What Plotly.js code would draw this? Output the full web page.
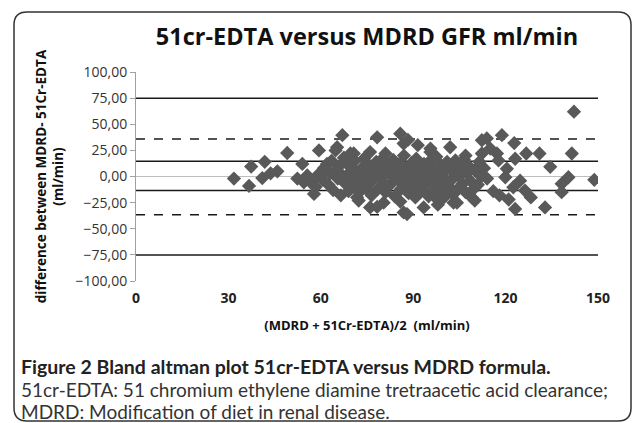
<!DOCTYPE html>
<html>
<head>
<meta charset="utf-8">
<script src="https://cdn.plot.ly/plotly-3.0.1.min.js"></script>
<style>html,body{margin:0;padding:0;background:#fff;}#chart{width:633px;height:423px;}</style>
</head>
<body>
<div id="chart"></div>
<script>
// Mean of the two methods (ml/min)
const meanGFR = [
  31.8,36.7,37.4,41,41.8,43.7,45.9,49.1,52.4,54,54.5,55.6,56.7,57.8,58.3,58.9,59.4,62,61.5,
  65.3,67,69.6,64.8,70.7,76,78.3,81,85.8,86.9,88.3,91.5,95.6,95.6,71.8,72.3,76,78.3,80.4,85.8,86.9,88,90.7,93.4,96.6,103.1,104.2,110,103.7,105.3,102,98,100,107,109.6,98.8,
  60.5,61,62.5,63,63.5,64,65,65.5,66,66.5,67,67.5,68,68.5,69,69.5,70,70,
  71,71.5,72,72.5,73,73.5,74,74.5,75,75.5,76,76.5,77,77.5,78,78.5,79,79.5,80,80,
  81,81.5,82,82.5,83,83.5,84,84.5,85,85.5,86,86.5,87,87.5,88,88.5,89,89.5,90,90,
  91,91.5,92,92.5,93,93.5,94,94.5,95,95.5,96,96.5,97,97.5,98,98.5,99,99.5,100,100,
  101,101.5,102,102.5,103,103.5,104,104.5,105,105.5,106,106.5,107,107.5,108,108.5,109,110,111,111.5,112,
  112.3,113.9,118.8,122.8,112.3,115,117.2,117.7,123.1,126.7,131,141.5,134.5,120.4,119.9,124.7,122.5,126.3,128.2,132.8,123.1,140.4,138.2,138.2,148.8,142.2,114,116,113,118,121
];
// Difference MDRD - 51Cr-EDTA (ml/min)
const diffGFR = [
  -2,-9,9.5,-1.5,14,3,5,22.5,-2,12,-5.5,1,-5.5,-16.7,-10,1,25,12,5,
  28,39.5,22,25,22,23.4,37.5,22,41,31.5,35,30,26.7,23.4,-20,-23,-29.6,-29,-25,-24,-34.4,-36,-20,-29.6,-18.3,-25,-25,-23,15.4,12,28,-27,-20,20,-12,-10.3,
  -3,8,-8,3,15,-13,6,-2,10,-18,1,18,-7,12,-14,4,-3,9,
  15,-9,2,-15,7,-4,17,-11,3,11,-6,-18,6,-1,14,-12,1,8,-5,17,
  -15,4,11,-8,0,16,-19,6,-3,12,-12,2,20,-7,8,-16,-1,13,-10,4,
  17,-5,9,-14,1,12,-8,5,-19,15,-2,8,-12,19,2,-6,11,-15,5,-1,
  14,-9,7,-3,-17,3,9,-12,0,6,-7,16,-15,3,10,-4,-20,6,-8,14,0,
  34.7,36.4,39.5,32,22,26.7,22,15.4,17,22,22,22,9.3,7.4,-0.7,-4,-10.3,-13.5,-20,-29.6,-31,-0.7,-7,-15,-3.2,62,-2,-14,8,-18,-22
];
// Horizontal reference lines (ml/min)
const outerLines = [75, -75];
const sdLines = [14.5, -13.5];
const agreementLimits = [36, -36.5];
const xTicks = [0, 30, 60, 90, 120, 150];
const yTicks = [-100, -75, -50, -25, 0, 25, 50, 75, 100];

const W = 633, H = 423, L = 136, R = 35, T = 72, B = 142;
const pw = W - L - R, ph = H - T - B;
const px2x = p => (p - L) / pw;
const px2y = p => (H - B - p) / ph;

const shapes = [];
outerLines.concat(sdLines).forEach(v => shapes.push({type:'line', xref:'x', yref:'y', x0:0, x1:150, y0:v, y1:v, line:{color:'#1a1a1a', width:1.5}, layer:'below'}));
agreementLimits.forEach(v => shapes.push({type:'line', xref:'x', yref:'y', x0:0, x1:150, y0:v, y1:v, line:{color:'#1a1a1a', width:1.5, dash:'dash'}, layer:'below'}));
// rounded frame
const fx0 = 14, fx1 = 631, fy0 = 12, fy1 = 421, rr = 13;
const P = (x, y) => px2x(x) + ',' + px2y(y);
shapes.push({type:'path', xref:'paper', yref:'paper',
  path: 'M' + P(fx0, fy0 + rr) + ' Q' + P(fx0, fy0) + ' ' + P(fx0 + rr, fy0) +
        ' L' + P(fx1 - rr, fy0) + ' Q' + P(fx1, fy0) + ' ' + P(fx1, fy0 + rr) +
        ' L' + P(fx1, fy1 - rr) + ' Q' + P(fx1, fy1) + ' ' + P(fx1 - rr, fy1) +
        ' L' + P(fx0 + rr, fy1) + ' Q' + P(fx0, fy1) + ' ' + P(fx0, fy1 - rr) + ' Z',
  line:{color:'#333', width:1.5}});

const capFont = 'Lato, "Open Sans", sans-serif';
const annotations = [
  {text:'<b>Figure 2 Bland altman plot 51cr-EDTA versus MDRD formula.</b>', xref:'paper', yref:'paper', x:px2x(19), y:px2y(366), xanchor:'left', yanchor:'middle', showarrow:false, font:{family:capFont, size:19.5, color:'#222'}},
  {text:'51cr-EDTA: 51 chromium ethylene diamine tretraacetic acid clearance;', xref:'paper', yref:'paper', x:px2x(19), y:px2y(389), xanchor:'left', yanchor:'middle', showarrow:false, font:{family:capFont, size:19, color:'#333'}},
  {text:'MDRD: Modification of diet in renal disease.', xref:'paper', yref:'paper', x:px2x(19), y:px2y(411), xanchor:'left', yanchor:'middle', showarrow:false, font:{family:capFont, size:19, color:'#333'}}
];

const trace = {
  type:'scatter', mode:'markers', x: meanGFR, y: diffGFR,
  marker:{symbol:'diamond', size:11, color:'#595959', line:{width:0}},
  hoverinfo:'x+y', showlegend:false
};

const layout = {
  width:W, height:H,
  margin:{l:L, r:R, t:T, b:B},
  paper_bgcolor:'#fff', plot_bgcolor:'#fff',
  separators:',.',
  font:{family:'"Open Sans", sans-serif', color:'#222'},
  title:{text:'<b>51cr-EDTA versus MDRD GFR ml/min</b>', x:367/W, xanchor:'center', y:1 - 37/H, yanchor:'middle', font:{family:'"Open Sans", sans-serif', size:23.5, color:'#111'}},
  xaxis:{range:[0,150], tickvals:xTicks, ticktext:xTicks.map(v => '<b>' + v + '</b>'), showgrid:false, zeroline:false, showline:false, ticks:'',
    tickfont:{size:14, color:'#222'}, ticklabelstandoff:7,
    title:{text:'<b>(MDRD + 51Cr-EDTA)/2  (ml/min)</b>', font:{size:13, color:'#111'}, standoff:14}},
  yaxis:{range:[-100,100], tickvals:yTicks, tickformat:'.2f', showgrid:false, zeroline:true, zerolinecolor:'#bdbdbd', zerolinewidth:1,
    showline:true, linecolor:'#a0a0a0', linewidth:1, ticks:'outside', ticklen:5, tickcolor:'#a0a0a0',
    tickfont:{size:14, color:'#333'},
    title:{text:'<b>difference between MDRD- 51Cr-EDTA<br>(ml/min)</b>', font:{size:13.5, color:'#111'}, standoff:8}},
  shapes: shapes,
  annotations: annotations
};

Plotly.newPlot('chart', [trace], layout, {staticPlot:true, displayModeBar:false});
</script>
</body>
</html>
